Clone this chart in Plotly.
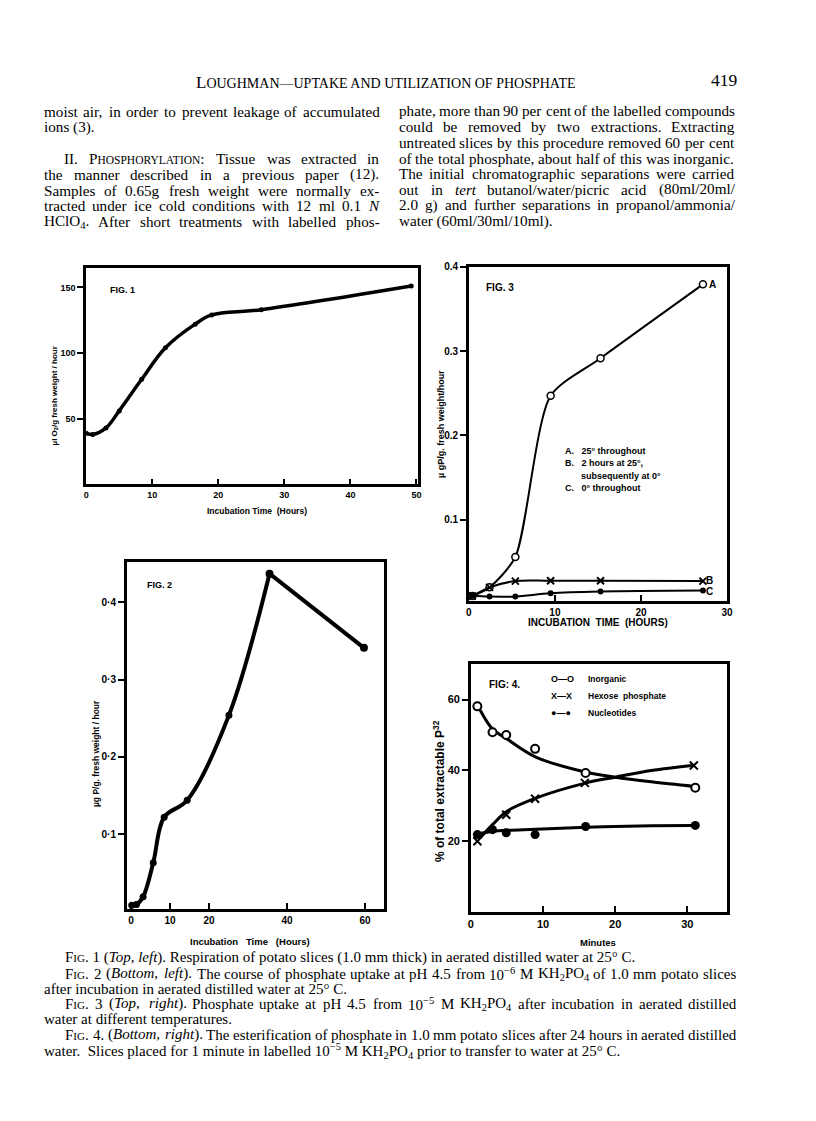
import re
import plotly.graph_objects as go

W, H = 816, 1121
OFF = 8  # the page body margin shifts the figure by 8 px


def px(x):
    return (x - OFF) / W


def py(y):
    return 1 - (y - OFF) / H


# ---------------- data ----------------
fig1_time = [0, 1, 3, 5, 8.4, 12, 16.5, 19, 26.5, 49.2]
fig1_resp = [39, 38, 43, 56, 80, 104, 122, 129, 133, 151]

fig2_time = [0.2, 1.4, 3.1, 5.7, 8.5, 14.4, 25.1, 35.5, 59.7]
fig2_uptake = [0.008, 0.009, 0.019, 0.063, 0.122, 0.144, 0.254, 0.437, 0.341]

fig3_time = [0.4, 2.4, 5.4, 9.5, 15.3, 27.2]
fig3_A = [0.0097, 0.020, 0.056, 0.247, 0.2915, 0.379]
fig3_B = [0.0097, 0.020, 0.0274, 0.0278, 0.0278, 0.0274]
fig3_C = [0.0100, 0.0090, 0.0092, 0.0130, 0.0150, 0.0162]

fig4_minutes = [0.9, 3.0, 4.9, 8.9, 15.9, 31.1]
fig4_inorganic = [58.1, 50.8, 50.0, 46.1, 39.3, 35.1]
fig4_hex_minutes = [0.9, 4.9, 8.9, 15.8, 30.9]
fig4_hexose = [20.0, 27.5, 32.0, 36.5, 41.4]
fig4_nucleotides = [21.9, 23.3, 22.4, 21.9, 24.2, 24.5]
# hand-drawn smooth curves of Fig. 4
fig4_curve_x = [1.3, 3, 5, 9, 16, 20, 25, 31]
fig4_inorg_curve = [57, 51.7, 48.9, 43.8, 39.5, 38.1, 36.8, 35.5]
fig4_hex_curve = [21, 24.7, 28.5, 32.2, 36.5, 38.1, 40, 41.5]
fig4_nuc_curve = [22.3, 22.8, 23.1, 23.4, 24.0, 24.2, 24.4, 24.5]

fig1_xticks = [0, 10, 20, 30, 40, 50]
fig1_yticks = [50, 100, 150]
fig2_xticks = [0, 10, 20, 40, 60]
fig2_yticks = [0.1, 0.2, 0.3, 0.4]
fig2_yticklabels = ["0·1", "0·2", "0·3", "0·4"]
fig3_xticks = [0, 10, 20, 30]
fig3_yticks = [0.1, 0.2, 0.3, 0.4]
fig3_yticklabels = ["0.1", "0.2", "0.3", "0.4"]
fig4_xticks = [0, 10, 20, 30]
fig4_yticks = [20, 40, 60]

# (text, justified?)
left_col = [
    ("moist air, in order to prevent leakage of accumulated", True),
    ("ions (3).", False),
    ("II. P<span style='font-size:11.5px'>HOSPHORYLATION</span>: Tissue was extracted in", True),
    ("the manner described in a previous paper (12).", True),
    ("Samples of 0.65g fresh weight were normally ex-", True),
    ("tracted under ice cold conditions with 12 ml 0.1 <i>N</i>", True),
    ("HClO<sub>4</sub>. After short treatments with labelled phos-", True),
]
right_col = [
    ("phate, more than 90 per cent of the labelled compounds", True),
    ("could be removed by two extractions. Extracting", True),
    ("untreated slices by this procedure removed 60 per cent", True),
    ("of the total phosphate, about half of this was inorganic.", True),
    ("The initial chromatographic separations were carried", True),
    ("out in <i>tert</i> butanol/water/picric acid (80ml/20ml/", True),
    ("2.0 g) and further separations in propanol/ammonia/", True),
    ("water (60ml/30ml/10ml).", False),
]
SC = "<span style='font-size:11px'>IG</span>"
captions = [
    (65, f"F{SC}. 1 (<i>Top,</i> <i>left</i>). Respiration of potato slices (1.0 mm thick) in aerated distilled water at 25° C.", False),
    (65, f"F{SC}. 2 (<i>Bottom,</i> <i>left</i>). The course of phosphate uptake at pH 4.5 from 10<sup>−6</sup> M KH<sub>2</sub>PO<sub>4</sub> of 1.0 mm potato slices", True),
    (43, "after incubation in aerated distilled water at 25° C.", False),
    (65, f"F{SC}. 3 (<i>Top,</i> <i>right</i>). Phosphate uptake at pH 4.5 from 10<sup>−5</sup> M KH<sub>2</sub>PO<sub>4</sub> after incubation in aerated distilled", True),
    (43, "water at different temperatures.", False),
    (65, f"F{SC}. 4. (<i>Bottom,</i> <i>right</i>). The esterification of phosphate in 1.0 mm potato slices after 24 hours in aerated distilled", True),
    (43, "water.  Slices placed for 1 minute in labelled 10<sup>−5</sup> M KH<sub>2</sub>PO<sub>4</sub> prior to transfer to water at 25° C.", False),
]

SANS = "Liberation Sans"
SERIF = "Liberation Serif"

# Times / Liberation Serif advance widths (1/1000 em) for text layout
_TW = dict(zip("abcdefghijklmnopqrstuvwxyz",
               [444, 500, 444, 500, 444, 333, 500, 500, 278, 278, 500, 278, 778, 500, 500, 500, 500, 333, 389, 278,
                500, 500, 722, 500, 500, 444]))
_TW.update(zip("ABCDEFGHIJKLMNOPQRSTUVWXYZ",
               [722, 667, 667, 722, 611, 556, 722, 722, 333, 389, 722, 611, 889, 722, 722, 556, 722, 667, 556, 611,
                722, 722, 944, 722, 722, 611]))
_TW.update({c: 500 for c in "0123456789"})
_TW.update({" ": 250, ".": 250, ",": 250, "(": 333, ")": 333, "/": 278, "-": 333, ":": 278, "°": 400,
            "—": 1000, "−": 564, "·": 250})


def html_width(s, size):
    w = 0.0
    stack = [size]
    for tok in re.findall(r"<[^>]+>|.", s):
        if tok.startswith("<"):
            if tok.startswith("</"):
                if len(stack) > 1:
                    stack.pop()
            elif tok.startswith("<span"):
                m = re.search(r"font-size:([\d.]+)px", tok)
                stack.append(float(m.group(1)) if m else stack[-1])
            elif tok in ("<sub>", "<sup>"):
                stack.append(stack[-1] * 0.7)
            else:
                stack.append(stack[-1])
        else:
            w += _TW.get(tok, 500) / 1000 * stack[-1]
    return w


def split_words(s):
    # split on spaces that are not inside an html tag
    return [w_ for w_ in re.split(r" +(?![^<]*>)", s) if w_]


fig = go.Figure()

# ---------------- Fig. 1 ----------------
fig.add_trace(go.Scatter(x=fig1_time, y=fig1_resp, mode="lines+markers",
                         line=dict(color="black", width=3.5, shape="spline", smoothing=1.0),
                         marker=dict(color="black", size=5), xaxis="x", yaxis="y"))

# ---------------- Fig. 3 ----------------
fig.add_trace(go.Scatter(x=fig3_time, y=fig3_A, mode="lines+markers",
                         line=dict(color="black", width=2, shape="spline", smoothing=0.7),
                         marker=dict(color="white", size=7, line=dict(color="black", width=1.5)),
                         xaxis="x2", yaxis="y2"))
fig.add_trace(go.Scatter(x=fig3_time, y=fig3_B, mode="lines+markers",
                         line=dict(color="black", width=2, shape="spline", smoothing=1.0),
                         marker=dict(color="black", size=7, symbol="x-thin", line=dict(color="black", width=2)),
                         xaxis="x2", yaxis="y2"))
fig.add_trace(go.Scatter(x=fig3_time, y=fig3_C, mode="lines+markers",
                         line=dict(color="black", width=2, shape="spline", smoothing=1.0),
                         marker=dict(color="black", size=6),
                         xaxis="x2", yaxis="y2"))

# ---------------- Fig. 2 ----------------
fig.add_trace(go.Scatter(x=fig2_time[:8], y=fig2_uptake[:8], mode="lines+markers",
                         line=dict(color="black", width=4, shape="spline", smoothing=1.0),
                         marker=dict(color="black", size=7), xaxis="x3", yaxis="y3"))
fig.add_trace(go.Scatter(x=fig2_time[7:], y=fig2_uptake[7:], mode="lines+markers",
                         line=dict(color="black", width=4),
                         marker=dict(color="black", size=8), xaxis="x3", yaxis="y3"))

# ---------------- Fig. 4 ----------------
for cy in (fig4_inorg_curve, fig4_hex_curve, fig4_nuc_curve):
    fig.add_trace(go.Scatter(x=fig4_curve_x, y=cy, mode="lines",
                             line=dict(color="black", width=3, shape="spline"), xaxis="x4", yaxis="y4"))
fig.add_trace(go.Scatter(x=fig4_minutes, y=fig4_inorganic, mode="markers",
                         marker=dict(color="white", size=8, symbol="circle", line=dict(color="black", width=2)),
                         xaxis="x4", yaxis="y4"))
fig.add_trace(go.Scatter(x=fig4_hex_minutes, y=fig4_hexose, mode="markers",
                         marker=dict(color="black", size=8, symbol="x-thin", line=dict(color="black", width=2)),
                         xaxis="x4", yaxis="y4"))
fig.add_trace(go.Scatter(x=fig4_minutes, y=fig4_nucleotides, mode="markers",
                         marker=dict(color="black", size=9),
                         xaxis="x4", yaxis="y4"))


def ax(domain_px, rng, tickvals, ticks, anchor, ticktext=None, fsize=9, is_x=True):
    if is_x:
        dom = [px(domain_px[0]), px(domain_px[1])]
    else:
        dom = [py(domain_px[1]), py(domain_px[0])]
    d = dict(domain=dom, range=rng, anchor=anchor, showline=True, linecolor="black", linewidth=2.5,
             mirror=True, showgrid=False, zeroline=False, tickmode="array", tickvals=tickvals,
             ticks=ticks, ticklen=6, tickwidth=2, tickcolor="black",
             tickfont=dict(family=SANS, size=fsize, color="black", weight="bold"))
    if ticktext is not None:
        d["ticktext"] = ticktext
    return d


fig.update_layout(
    width=W, height=H, margin=dict(l=0, r=0, t=0, b=0),
    paper_bgcolor="white", plot_bgcolor="white", showlegend=False,
    xaxis=ax([84, 420], [0, 50.3], fig1_xticks, "inside", "y"),
    yaxis=ax([263, 481], [0, 165], fig1_yticks, "outside", "x", is_x=False),
    xaxis2=ax([471, 732], [0, 30], fig3_xticks, "inside", "y2", fsize=10),
    yaxis2=ax([262, 598], [0.004, 0.4], fig3_yticks, "outside", "x2", ticktext=fig3_yticklabels, fsize=10, is_x=False),
    xaxis3=ax([125, 385], [-1.1, 64.8], fig2_xticks, "inside", "y3", fsize=10),
    yaxis3=ax([559, 908], [0.003, 0.452], fig2_yticks, "outside", "x3", ticktext=fig2_yticklabels, fsize=10, is_x=False),
    xaxis4=ax([473, 732], [0, 35.5], fig4_xticks, "inside", "y4", fsize=11),
    yaxis4=ax([661, 911], [0, 70.2], fig4_yticks, "outside", "x4", fsize=11, is_x=False),
)

ann = []


def text(x, y, s, size=15, family=SERIF, xanchor="left", angle=0, bold=False, color="black"):
    if xanchor == "left":
        x -= 3
    elif xanchor == "right":
        x += 3
    ann.append(dict(x=px(x), y=py(y), xref="paper", yref="paper", text=s, showarrow=False,
                    xanchor=xanchor, yanchor="middle", textangle=angle, borderpad=0,
                    font=dict(family=family, size=size, color=color, weight="bold" if bold else "normal")))


def line_text(x0, x1, y, s, size, justify):
    words = split_words(s)
    if not justify or len(words) < 2:
        text(x0, y, s, size=size)
        return
    widths = [html_width(w_, size) for w_ in words]
    gap = (x1 - x0 - sum(widths)) / (len(words) - 1)
    gap = max(gap, 0.2 * size)
    x = x0
    for w_, wd in zip(words, widths):
        text(x, y, w_, size=size)
        x += wd + gap


BODY = 15.2
CAP = 15.0

# header
text(387, 77, "L<span style='font-size:14px'>OUGHMAN—UPTAKE AND UTILIZATION OF PHOSPHATE</span>",
     size=17, xanchor="center")
text(741, 74, "419", size=17.5, xanchor="right")

# body text
left_y = [106, 122, 153, 169, 185, 201, 217]
for yy, (line, just) in zip(left_y, left_col):
    line_text(64 if line.startswith("II.") else 43, 382, yy, line, BODY, just)
right_y = [105, 121, 137, 153, 168, 184, 200, 216]
for yy, (line, just) in zip(right_y, right_col):
    line_text(402, 741, yy, line, BODY, just)

# captions
cap_y = [957, 973, 988, 1003, 1018, 1034, 1051]
for yy, (xx, line, just) in zip(cap_y, captions):
    line_text(xx, 743, yy, line, CAP, just)

# Fig. 1 labels
text(110, 285, "FIG. 1", size=9, family=SANS, bold=True)
text(52, 392, "µl O<sub>2</sub>/g fresh weight / hour", size=8, family=SANS, angle=-90, bold=True, xanchor="center")
text(257, 508, "Incubation Time  (Hours)", size=8.5, family=SANS, bold=True, xanchor="center")

# Fig. 3 labels
text(490, 283, "FIG. 3", size=10, family=SANS, bold=True)
text(443, 420, "µ gP/g. fresh weight/hour", size=9, family=SANS, angle=-90, bold=True, xanchor="center")
text(602, 620, "INCUBATION  TIME  (HOURS)", size=10, family=SANS, bold=True, xanchor="center")
text(570, 447, "A.   25° throughout", size=9, family=SANS, bold=True)
text(570, 459, "B.   2 hours at 25°,", size=9, family=SANS, bold=True)
text(586, 472, "subsequently at 0°", size=9, family=SANS, bold=True)
text(570, 485, "C.   0° throughout", size=9, family=SANS, bold=True)
text(716, 280, "A", size=10, family=SANS, bold=True)
text(713, 578, "B", size=10, family=SANS, bold=True)
text(713, 589, "C", size=10, family=SANS, bold=True)

# Fig. 2 labels
text(148, 582, "FIG. 2", size=9, family=SANS, bold=True)
text(94, 752, "µg P/g. fresh weight / hour", size=8.5, family=SANS, angle=-90, bold=True, xanchor="center")
text(250, 940, "Incubation   Time   (Hours)", size=9.5, family=SANS, bold=True, xanchor="center")

# Fig. 4 labels
text(493, 682, "FIG: 4.", size=10, family=SANS, bold=True)
text(441, 789, "% of total extractable P<sup>32</sup>", size=12, family=SANS, angle=-90, bold=True, xanchor="center")
text(602, 941, "Minutes", size=9.5, family=SANS, bold=True, xanchor="center")
text(556, 677, "O—O", size=9, family=SANS, bold=True)
text(593, 677, "Inorganic", size=8.5, family=SANS, bold=True)
text(556, 694, "X—X", size=9, family=SANS, bold=True)
text(593, 694, "Hexose  phosphate", size=8.5, family=SANS, bold=True)
text(556, 711, "●—●", size=9, family=SANS, bold=True)
text(593, 711, "Nucleotides", size=8.5, family=SANS, bold=True)

fig.update_layout(annotations=ann)
fig.write_html("out.html")
